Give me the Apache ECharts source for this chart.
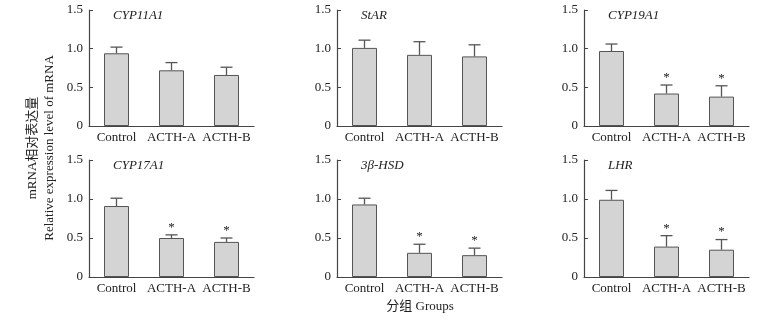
<!DOCTYPE html>
<html>
<head>
<meta charset="utf-8">
<script src="https://cdn.jsdelivr.net/npm/echarts@6/dist/echarts.min.js"></script>
<style>
  html, body { margin: 0; padding: 0; background: #fff; }
  #chart { width: 774px; height: 321px; }
</style>
</head>
<body>
<div id="chart"></div>
<script>
// 组别
const groups = ['Control', 'ACTH-A', 'ACTH-B'];
const geneNames = ['CYP11A1', 'StAR', 'CYP19A1', 'CYP17A1', '3β-HSD', 'LHR'];
const yTicks = [0, 0.5, 1.0, 1.5];

// 均值 / 误差 / 显著性 (1 = *)
const meanCYP11A1 = [0.94, 0.72, 0.66];
const errCYP11A1 = [0.08, 0.10, 0.10];
const sigCYP11A1 = [0, 0, 0];

const meanStAR = [1.01, 0.92, 0.90];
const errStAR = [0.10, 0.17, 0.15];
const sigStAR = [0, 0, 0];

const meanCYP19A1 = [0.97, 0.42, 0.38];
const errCYP19A1 = [0.09, 0.11, 0.14];
const sigCYP19A1 = [0, 1, 1];

const meanCYP17A1 = [0.91, 0.50, 0.45];
const errCYP17A1 = [0.10, 0.04, 0.05];
const sigCYP17A1 = [0, 1, 1];

const mean3bHSD = [0.93, 0.31, 0.28];
const err3bHSD = [0.08, 0.11, 0.09];
const sig3bHSD = [0, 1, 1];

const meanLHR = [0.99, 0.39, 0.35];
const errLHR = [0.12, 0.14, 0.13];
const sigLHR = [0, 1, 1];

const panels = [
    [meanCYP11A1, errCYP11A1, sigCYP11A1],
    [meanStAR, errStAR, sigStAR],
    [meanCYP19A1, errCYP19A1, sigCYP19A1],
    [meanCYP17A1, errCYP17A1, sigCYP17A1],
    [mean3bHSD, err3bHSD, sig3bHSD],
    [meanLHR, errLHR, sigLHR],
];

const serif = '"Liberation Serif", "Times New Roman", serif';
const lefts = [89, 337, 584];
const tops = [10, 160];
const lineColor = '#444';

const grid = [], xAxis = [], yAxis = [], series = [], title = [];

panels.forEach((p, i) => {
    const col = i % 3, row = Math.floor(i / 3);
    grid.push({ left: lefts[col], top: tops[row], width: 165, height: row ? 117 : 116 });
    title.push({
        text: geneNames[i],
        left: lefts[col] + 19,
        top: tops[row] - 6,
        textStyle: { fontFamily: serif, fontStyle: 'italic', fontWeight: 'normal', fontSize: 13, color: '#222' },
    });
    xAxis.push({
        type: 'category',
        gridIndex: i,
        data: groups,
        axisLine: { lineStyle: { color: lineColor, width: 1.2 } },
        axisTick: { inside: true, length: 4, lineStyle: { color: lineColor } },
        axisLabel: { interval: 0, fontFamily: serif, fontSize: 13, color: '#222', margin: 5 },
    });
    yAxis.push({
        type: 'value',
        gridIndex: i,
        min: 0,
        max: 1.5,
        interval: 0.5,
        splitLine: { show: false },
        axisLine: { show: true, lineStyle: { color: lineColor, width: 1.2 } },
        axisTick: { show: true, inside: true, length: 4, lineStyle: { color: lineColor } },
        axisLabel: {
            fontFamily: serif, fontSize: 13, color: '#222', margin: 6,
            formatter: (v) => (v === 0 ? '0' : v.toFixed(1)),
        },
    });
    series.push({
        type: 'bar',
        xAxisIndex: i,
        yAxisIndex: i,
        data: p[0],
        barWidth: 25,
        itemStyle: { color: '#d4d4d4', borderColor: '#555', borderWidth: 1 },
        silent: true,
    });
    series.push({
        type: 'custom',
        xAxisIndex: i,
        yAxisIndex: i,
        z: 5,
        data: p[0].map((m, k) => [k, m, p[1][k], p[2][k]]),
        renderItem: (params, api) => {
            const k = api.value(0), m = api.value(1), e = api.value(2), s = api.value(3);
            const a = api.coord([k, m]);
            const b = api.coord([k, m + e]);
            const st = { stroke: '#555', lineWidth: 1.3 };
            const children = [
                { type: 'line', shape: { x1: a[0], y1: a[1], x2: b[0], y2: b[1] }, style: st },
                { type: 'line', shape: { x1: b[0] - 6, y1: b[1], x2: b[0] + 6, y2: b[1] }, style: st },
            ];
            if (s) {
                children.push({
                    type: 'text',
                    style: {
                        text: '*', x: b[0], y: b[1] - 1, align: 'center', verticalAlign: 'bottom',
                        fontFamily: serif, fontSize: 13, fill: '#222',
                    },
                });
            }
            return { type: 'group', children };
        },
    });
});

const chart = echarts.init(document.getElementById('chart'));
chart.setOption({
    animation: false,
    title,
    grid,
    xAxis,
    yAxis,
    series,
    graphic: [
        {
            type: 'text', x: 33, y: 148, rotation: Math.PI / 2,
            style: { text: 'mRNA相对表达量', font: '13px ' + serif + ', "Noto Sans CJK SC"', fill: '#222', align: 'center', verticalAlign: 'middle' },
        },
        {
            type: 'text', x: 50, y: 148, rotation: Math.PI / 2,
            style: { text: 'Relative expression level of mRNA', font: '13px ' + serif, fill: '#222', align: 'center', verticalAlign: 'middle' },
        },
        {
            type: 'text', x: 420, y: 307,
            style: { text: '分组 Groups', font: '13px ' + serif + ', "Noto Sans CJK SC"', fill: '#222', align: 'center', verticalAlign: 'middle' },
        },
    ],
});
</script>
</body>
</html>
